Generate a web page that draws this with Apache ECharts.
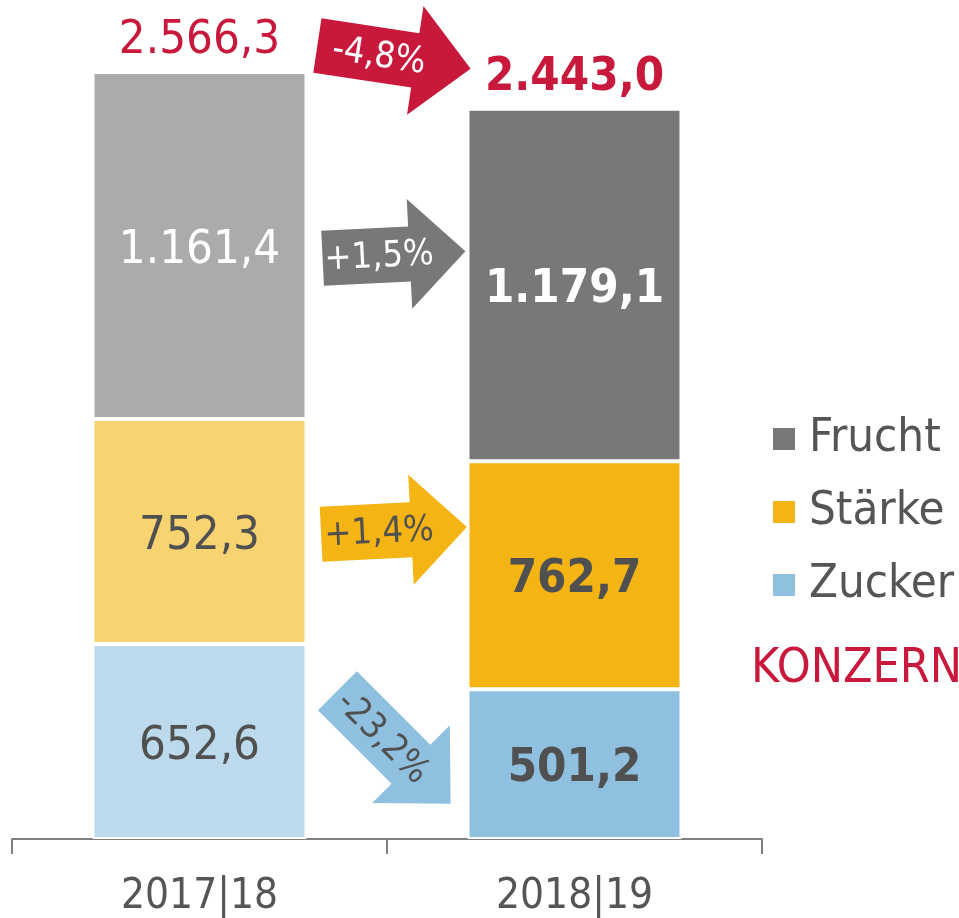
<!DOCTYPE html>
<html>
<head>
<meta charset="utf-8">
<script src="https://cdn.jsdelivr.net/npm/echarts@6/dist/echarts.min.js"></script>
<style>
  html, body { margin: 0; padding: 0; background: #fff; }
  #chart { width: 959px; height: 918px; }
</style>
</head>
<body>
<div id="chart"></div>
<script>
const years = ['2017|18', '2018|19'];
const zucker = [652.6, 501.2];
const staerke = [752.3, 762.7];
const frucht = [1161.4, 1179.1];
const totals = [2566.3, 2443.0];

// arrow levels between the bars (value units) and their tilt
const arrowLevels = [2616, 1955, 1032, 307];
const arrowAngles = [-0.15, 0.05, 0.05, -0.785];

const FONT = '"DejaVu Sans Condensed", "DejaVu Sans", sans-serif';
const RED = '#c8193c';
const DARK = '#505050';

function fmt(v) {
  const parts = v.toFixed(1).split('.');
  const int = parts[0].replace(/\B(?=(\d{3})+(?!\d))/g, '.');
  return int + ',' + parts[1];
}
function pct(a, b) {
  const p = (b / a - 1) * 100;
  return (p >= 0 ? '+' : '-') + Math.abs(p).toFixed(1).replace('.', ',') + '%';
}

function stackSeries(name, data, light, dark, labelColors) {
  return {
    name: name,
    type: 'bar',
    stack: 'total',
    barWidth: 214,
    itemStyle: { color: dark, borderColor: '#fff', borderWidth: 2 },
    data: data.map((v, i) => ({
      value: v,
      itemStyle: { color: i === 0 ? light : dark },
      label: {
        color: labelColors[i],
        fontWeight: i === 0 ? 'normal' : 'bold'
      }
    })),
    label: {
      show: true,
      position: 'inside',
      offset: [0, 5],
      fontFamily: FONT,
      fontSize: 47,
      formatter: p => fmt(p.value)
    }
  };
}

const chart = echarts.init(document.getElementById('chart'));

chart.setOption({
  animation: false,
  textStyle: { fontFamily: FONT },
  grid: { left: 12, right: 197, top: 72, bottom: 78 },
  xAxis: {
    type: 'category',
    data: years,
    axisLine: { lineStyle: { color: '#7f7f7f', width: 2 } },
    axisTick: { show: true, length: 15, lineStyle: { color: '#7f7f7f', width: 2 } },
    axisLabel: { color: '#555', fontSize: 42, fontFamily: FONT, margin: 37 }
  },
  yAxis: { type: 'value', min: 0, max: Math.max(...totals), show: false },
  legend: {
    data: ['Frucht', 'Stärke', 'Zucker'],
    orient: 'vertical',
    left: 771,
    top: 414,
    padding: 0,
    itemWidth: 24,
    itemHeight: 24,
    itemGap: 23,
    icon: 'rect',
    textStyle: { color: '#555', fontSize: 47, fontFamily: FONT, lineHeight: 50, padding: [0, 0, 0, 8] }
  },
  series: [
    stackSeries('Zucker', zucker, '#bddaed', '#8fc0df', [DARK, DARK]),
    stackSeries('Stärke', staerke, '#f8d372', '#f4b414', [DARK, DARK]),
    stackSeries('Frucht', frucht, '#ababab', '#787878', ['#fff', '#fff']),
    {
      name: 'KONZERN',
      type: 'bar',
      stack: 'total',
      barWidth: 214,
      itemStyle: { color: 'transparent', borderWidth: 0 },
      data: totals.map((t, i) => ({
        value: 0,
        label: { fontWeight: i === 0 ? 'normal' : 'bold' }
      })),
      label: {
        show: true,
        position: 'top',
        distance: 8,
        color: RED,
        fontSize: 47,
        fontFamily: FONT,
        formatter: p => fmt(totals[p.dataIndex])
      }
    }
  ]
});

// arrows between the two bars
const arrowLabels = [
  pct(totals[0], totals[1]),
  pct(frucht[0], frucht[1]),
  pct(staerke[0], staerke[1]),
  pct(zucker[0], zucker[1])
];
const arrowFill = [RED, '#787878', '#f4b414', '#8fc0df'];
const arrowText = ['#fff', '#fff', DARK, DARK];
const arrowLen = [155, 143, 146, 160];

function arrowShape(L) {
  const sw = 55, hw = 110, hl = 56;
  return [
    [-L / 2, -sw / 2], [L / 2 - hl, -sw / 2], [L / 2 - hl, -hw / 2], [L / 2, 0],
    [L / 2 - hl, hw / 2], [L / 2 - hl, sw / 2], [-L / 2, sw / 2]
  ];
}

const x0 = chart.convertToPixel({ xAxisIndex: 0 }, years[0]);
const x1 = chart.convertToPixel({ xAxisIndex: 0 }, years[1]);
const midX = (x0 + x1) / 2;

const graphics = arrowLabels.map((txt, i) => ({
  type: 'group',
  x: midX + 7,
  y: chart.convertToPixel({ yAxisIndex: 0 }, arrowLevels[i]),
  rotation: arrowAngles[i],
  children: [
    { type: 'polygon', shape: { points: arrowShape(arrowLen[i]) }, style: { fill: arrowFill[i] } },
    {
      type: 'text', x: -15, y: 2,
      style: { text: txt, fill: arrowText[i], fontSize: 36, fontFamily: FONT, align: 'center', verticalAlign: 'middle' }
    }
  ]
}));

graphics.push({
  type: 'text',
  left: 751,
  top: 646,
  style: { text: 'KONZERN', fill: RED, fontSize: 48, fontFamily: FONT }
});

chart.setOption({ graphic: graphics });
</script>
</body>
</html>
